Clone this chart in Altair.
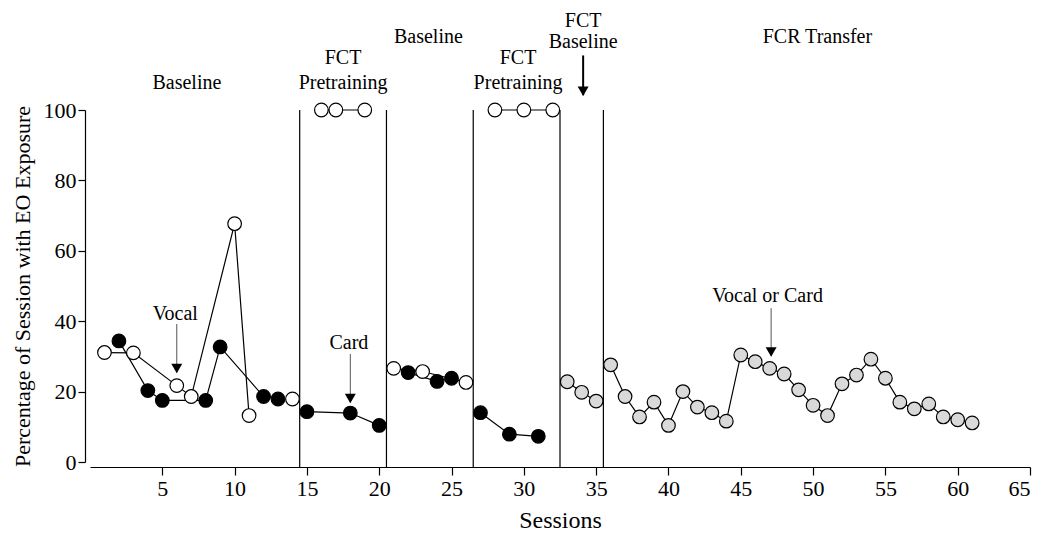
import altair as alt
import pandas as pd

# ---------------- data ----------------
# Baseline 1
bl1_open_s = [1, 3, 6, 7, 10, 11]
bl1_open_v = [31.1, 31.0, 21.7, 18.6, 67.7, 13.2]
bl1_open2_s = [14]
bl1_open2_v = [17.9]
bl1_fill_s = [2, 4, 5, 8, 9, 12, 13]
bl1_fill_v = [34.4, 20.3, 17.5, 17.5, 32.7, 18.6, 17.9]
# FCT pretraining 1
fct1_open_s = [16, 17, 19]
fct1_open_v = [100, 100, 100]
fct1_fill_s = [15, 18, 20]
fct1_fill_v = [14.3, 13.9, 10.4]
# Baseline 2
bl2_open_s = [21, 23, 26]
bl2_open_v = [26.6, 25.7, 22.6]
bl2_fill_s = [22, 24, 25]
bl2_fill_v = [25.4, 22.9, 23.8]
# FCT pretraining 2
fct2_open_s = [28, 30, 32]
fct2_open_v = [100, 100, 100]
fct2_fill_s = [27, 29, 31]
fct2_fill_v = [14.0, 7.9, 7.3]
# FCT baseline
fctbl_s = [33, 34, 35]
fctbl_v = [22.8, 19.8, 17.3]
# FCR transfer
fcr_s = list(range(36, 62))
fcr_v = [27.6, 18.6, 12.8, 17.0, 10.4, 20.0, 15.6, 14.0, 11.6, 30.4,
         28.5, 26.6, 25.0, 20.5, 16.1, 13.2, 22.2, 24.7, 29.2, 23.8,
         17.0, 15.1, 16.5, 12.8, 12.0, 11.1]

phase_lines = [14.5, 20.5, 26.5, 32.5, 35.5]

label_text = ["Baseline", "FCT", "Pretraining", "Baseline", "FCT", "Pretraining",
              "FCT", "Baseline", "FCR Transfer", "Vocal", "Card", "Vocal or Card"]
label_x = [6.7, 17.5, 17.5, 23.4, 29.6, 29.6, 34.1, 34.1, 50.3, 5.9, 17.9, 46.85]
label_y = [107.6, 114.9, 107.6, 120.8, 114.9, 107.6, 125.4, 119.4, 120.8, 42.0, 33.8, 47.3]

arrow_kind = ["bold", "thin", "thin", "thin"]
arrow_x = [34.1, 6.0, 18.0, 47.1]
arrow_y1 = [115.5, 39.2, 30.7, 43.7]
arrow_y2 = [104.2, 25.4, 16.9, 30.1]

# ---------------- tables ----------------
groups = [
    ("A", "open", bl1_open_s, bl1_open_v),
    ("B", "open", bl1_open2_s, bl1_open2_v),
    ("C", "filled", bl1_fill_s, bl1_fill_v),
    ("D", "open", fct1_open_s, fct1_open_v),
    ("E", "filled", fct1_fill_s, fct1_fill_v),
    ("F", "open", bl2_open_s, bl2_open_v),
    ("G", "filled", bl2_fill_s, bl2_fill_v),
    ("H", "open", fct2_open_s, fct2_open_v),
    ("I", "filled", fct2_fill_s, fct2_fill_v),
    ("J", "gray", fctbl_s, fctbl_v),
    ("K", "gray", fcr_s, fcr_v),
]
rows = []
for seg, kind, ss, vv in groups:
    for s, v in zip(ss, vv):
        rows.append({"seg": seg, "kind": kind, "session": s, "value": v})
df = pd.DataFrame(rows).sort_values("session").reset_index(drop=True)

phase_df = pd.DataFrame({"x": phase_lines})
label_df = pd.DataFrame({"text": label_text, "x": label_x, "y": label_y})
arrow_df = pd.DataFrame({"kind": arrow_kind, "x": arrow_x, "y1": arrow_y1, "y2": arrow_y2})

FONT = "Liberation Serif"
W, H = 940, 352

xscale = alt.Scale(domain=[0, 65], nice=False, zero=False)
yscale = alt.Scale(domain=[0, 100], nice=False)

X = alt.X("session:Q", scale=xscale,
          axis=alt.Axis(values=list(range(5, 70, 5)), title="Sessions",
                        tickSize=8, offset=5, labelPadding=3, titlePadding=9,
                        labelFontSize=22, titleFontSize=24))
Y = alt.Y("value:Q", scale=yscale,
          axis=alt.Axis(values=[0, 20, 40, 60, 80, 100],
                        title="Percentage of Session with EO Exposure",
                        tickSize=7, offset=5, labelPadding=2, titlePadding=9,
                        labelFontSize=22, titleFontSize=22))

lines = alt.Chart(df).mark_line(color="black", strokeWidth=1.2).encode(
    x=X, y=Y, detail="seg:N", order="session:Q")

points = alt.Chart(df).mark_point(filled=False, size=185, strokeWidth=1.2,
                                  stroke="black", opacity=1, shape="circle").encode(
    x=alt.X("session:Q", scale=xscale),
    y=alt.Y("value:Q", scale=yscale),
    fill=alt.Fill("kind:N", scale=alt.Scale(domain=["open", "filled", "gray"],
                                            range=["white", "black", "#d9d9d9"]),
                  legend=None),
)

phases = alt.Chart(phase_df).mark_rule(color="black", strokeWidth=1.2).encode(
    x=alt.X("x:Q", scale=xscale), y=alt.value(0), y2=alt.value(H + 5))

labels = alt.Chart(label_df).mark_text(font=FONT, fontSize=20, color="black",
                                       baseline="middle", align="center").encode(
    x=alt.X("x:Q", scale=xscale), y=alt.Y("y:Q", scale=yscale), text="text:N")

arrow_lines = alt.Chart(arrow_df).mark_rule().encode(
    x=alt.X("x:Q", scale=xscale),
    y=alt.Y("y1:Q", scale=yscale), y2="y2:Q",
    color=alt.Color("kind:N", scale=alt.Scale(domain=["bold", "thin"],
                                              range=["black", "#555555"]), legend=None),
    strokeWidth=alt.StrokeWidth("kind:N", scale=alt.Scale(domain=["bold", "thin"],
                                                         range=[2, 1]), legend=None),
)

arrow_heads = alt.Chart(arrow_df).mark_point(shape="triangle-down", filled=True,
                                             color="black", size=120, opacity=1,
                                             yOffset=-4).encode(
    x=alt.X("x:Q", scale=xscale), y=alt.Y("y2:Q", scale=yscale))

chart = alt.layer(phases, lines, points, labels, arrow_lines, arrow_heads).properties(
    width=W, height=H,
    autosize=alt.AutoSizeParams(type="none"),
    padding={"left": 82, "top": 102, "right": 12, "bottom": 74},
).configure_view(strokeWidth=0).configure_axis(
    grid=False, labelFont=FONT, titleFont=FONT, labelColor="black", titleColor="black",
    domainColor="black", tickColor="black", domainWidth=1.2, tickWidth=1.2,
    titleFontWeight="normal",
)

chart.save("out.html", embed_options={"renderer": "svg", "actions": False})
